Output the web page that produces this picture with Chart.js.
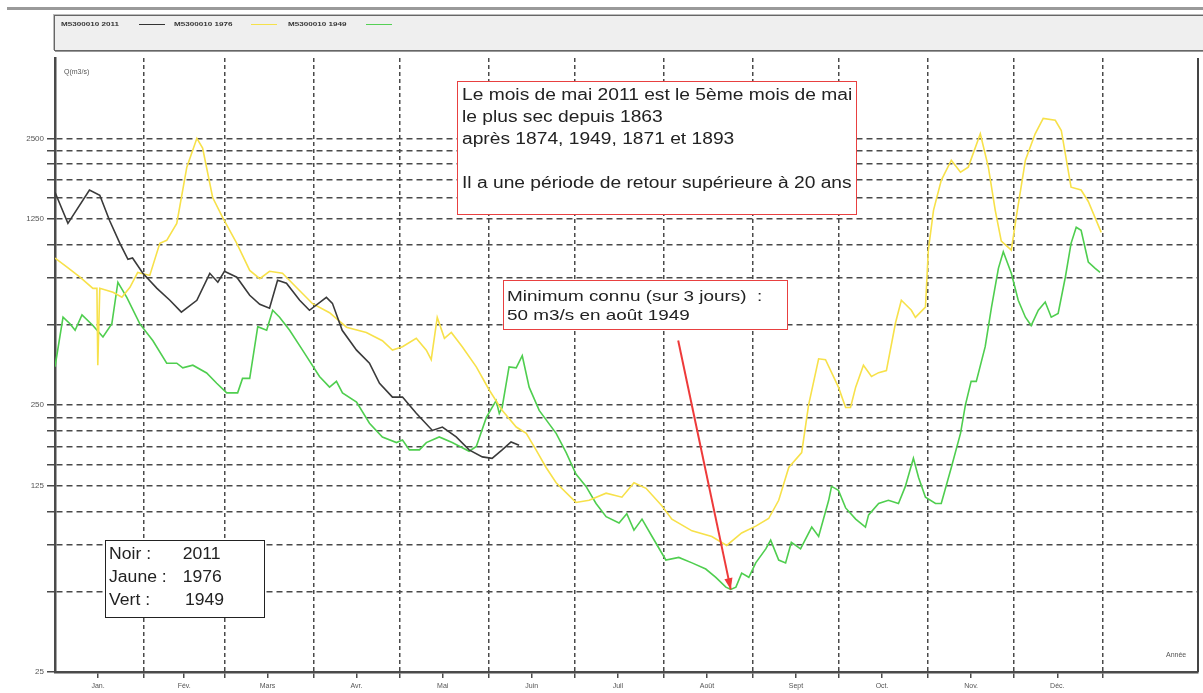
<!DOCTYPE html>
<html>
<head>
<meta charset="utf-8">
<script src="https://cdn.jsdelivr.net/npm/chart.js@4.4.0/dist/chart.umd.min.js"></script>
<style>
  body { margin: 0; background: #fff; font-family: Arial, "Liberation Sans", sans-serif; }
  #wrap { position: relative; width: 1203px; height: 693px; overflow: hidden; }
  canvas { position: absolute; left: 0; top: 0; }
  .topline { position: absolute; left: 7px; top: 7px; width: 1200px; height: 3px; background: #9a9a9a; }
  .legend { position: absolute; left: 54px; top: 15px; width: 1160px; height: 34px; background: #efefef;
            border: 1px solid #666; box-shadow: 1px 1px 0 #999, -1px -1px 0 #bbb; }
  .legend span { position: absolute; top: 5px; font-size: 6px; font-weight: bold; color: #333;
                 transform: scaleX(1.35); transform-origin: left; }
  .legend i { position: absolute; top: 8px; height: 1px; width: 26px; }
  .box { position: absolute; background: #fff; color: #222; }
  .red { border: 1.5px solid #e84040; }
  .stretch { transform: scaleX(1.2); transform-origin: left top; white-space: nowrap; }
  .small { position: absolute; font-size: 7px; color: #555; }
</style>
</head>
<body>
<div id="wrap">
  <canvas id="myChart" width="1203" height="693"></canvas>
  <div class="topline"></div>
  <div class="legend">
    <span style="left:6px">M5300010 2011</span><i style="left:84px;background:#333"></i>
    <span style="left:119px">M5300010 1976</span><i style="left:196px;background:#f5e14a"></i>
    <span style="left:233px">M5300010 1949</span><i style="left:311px;background:#55d055"></i>
  </div>
  <div class="small" style="left:64px;top:68px">Q(m3/s)</div>
  <div class="small" style="left:1166px;top:651px">Année</div>
  <div class="box red" style="left:457px;top:81px;width:400px;height:134px;font-size:16px;line-height:22px;padding:2px 0 0 4px;box-sizing:border-box">
    <div class="stretch">Le mois de mai 2011 est le 5ème mois de mai<br>le plus sec depuis 1863<br>après 1874, 1949, 1871 et 1893<br><br>Il a une période de retour supérieure à 20 ans</div>
  </div>
  <div class="box red" style="left:503px;top:280px;width:285px;height:50px;font-size:15px;line-height:19px;padding:5px 0 0 3px;box-sizing:border-box">
    <div class="stretch" style="transform:scaleX(1.26)">Minimum connu (sur 3 jours)&nbsp; :<br>50 m3/s en août 1949</div>
  </div>
  <div class="box" style="left:105px;top:540px;width:160px;height:78px;border:1.5px solid #222;font-size:16px;line-height:23px;padding:1px 0 0 3px;box-sizing:border-box">
    <div class="stretch" style="transform:scaleX(1.1);position:relative">
      <div>Noir :<span style="position:absolute;left:67px">2011</span></div>
      <div>Jaune :<span style="position:absolute;left:67px">1976</span></div>
      <div>Vert :<span style="position:absolute;left:69px">1949</span></div>
    </div>
  </div>
</div>
<script>
// débits journaliers, jour de l'année (0 = 1er janvier) / Q en m3/s
const days2011 = [0, 4.5, 12, 15.6, 19, 22.6, 25.4, 27, 30.6, 35.5, 40, 44, 49.4, 53.9, 56.7, 59, 63.3, 67.8, 71.3, 74.7, 77.5, 80.6, 85.2, 88.6, 94.5, 96.6, 100, 105, 109.5, 113, 117.5, 121, 125.8, 131.4, 134.9, 139.7, 144.2, 148.8, 152.2, 155.7, 158.8, 161.6];
const q2011 = [1570, 1200, 1600, 1530, 1230, 1010, 880, 890, 780, 685, 618, 558, 618, 780, 722, 794, 754, 645, 597, 577, 735, 716, 618, 567, 634, 602, 477, 402, 359, 302, 268, 268, 233, 201, 207, 190, 170, 160, 158, 170, 182, 177];

const days1976 = [0, 4.2, 8.7, 13.2, 14.6, 14.9, 15.6, 20.2, 23.3, 26.1, 28.8, 33, 36.5, 38.9, 42.4, 45.9, 49.4, 51.4, 54.9, 58.4, 63.3, 67.8, 71.3, 74.7, 79.2, 84.1, 89.7, 95.6, 101.5, 108.4, 114, 117.5, 121, 125.8, 129.3, 131, 133.1, 135.6, 138, 141.8, 146.7, 151.2, 155.7, 160.6, 164.1, 167.5, 171, 174.5, 181.4, 186, 191.9, 197.4, 201.6, 205.8, 211.3, 214.8, 221.8, 228.7, 233.9, 239.1, 244, 248.5, 252, 255.5, 260, 262.4, 265.9, 268.3, 272.8, 275.3, 277, 278.8, 281.5, 284.3, 286.8, 289.5, 292.7, 294.7, 298.2, 299.6, 303.1, 304.1, 305.9, 308.6, 312.1, 315.3, 318, 322.2, 325, 327.4, 329.5, 333, 334.7, 337.9, 341.3, 344.1, 348.3, 350.4, 353.8, 357.3, 359.8, 364.3];
const q1976 = [890, 822, 754, 685, 685, 353, 685, 662, 634, 691, 786, 766, 1010, 1037, 1200, 1950, 2500, 2300, 1500, 1260, 1010, 800, 745, 794, 780, 690, 600, 555, 490, 468, 436, 402, 414, 445, 402, 370, 533, 445, 468, 414, 348, 285, 239, 207, 196, 170, 146, 128, 108, 110, 117, 113, 128, 122, 105, 93.5, 84.5, 80.5, 74.5, 83, 88, 94, 110, 146, 166, 250, 373, 370, 292, 245, 245, 292, 353, 320, 331, 337, 510, 618, 567, 533, 583, 952, 1343, 1740, 2070, 1865, 1950, 2600, 1950, 1343, 1030, 952, 1265, 2070, 2600, 2970, 2920, 2675, 1640, 1600, 1450, 1110];

const days1949 = [0, 2.8, 5.2, 7, 9.4, 13.2, 16.7, 19.8, 21.9, 25, 29.5, 34.1, 38.9, 42.4, 44.5, 48, 52.8, 56.3, 59.8, 63.6, 65.3, 67.8, 70.6, 73.7, 75.8, 78.2, 81.7, 86.2, 92.1, 95.6, 98, 100.1, 105, 109.5, 114, 118.9, 121, 123.4, 126.9, 129.3, 133.8, 138.3, 144.2, 146.7, 150.2, 153.6, 154.7, 155.7, 158.1, 160.6, 162.7, 165.1, 168.6, 174.5, 178, 181.4, 184.9, 188.4, 191.9, 196.4, 199.1, 201.6, 204.4, 207.9, 212.7, 217.2, 221.8, 226.6, 230.1, 233.6, 235.3, 237.1, 239.1, 241.6, 244, 247.5, 249.2, 252, 254.4, 256.4, 259.6, 263.5, 265.9, 269.4, 270.4, 272.8, 275.3, 278.8, 282.2, 283.3, 286.8, 290.2, 293.7, 296.1, 298.9, 300.7, 303.1, 306.6, 308.6, 312.1, 315.3, 317, 319, 320.8, 323.9, 326.1, 328.5, 330.2, 333, 335.4, 337.9, 339.9, 342.4, 344.8, 346.9, 349.3, 351.8, 353.8, 355.6, 357.3, 359.8, 362.2, 363.9];
const q1949 = [348, 534, 505, 477, 545, 497, 450, 505, 722, 634, 505, 436, 359, 359, 345, 353, 330, 302, 278, 278, 315, 315, 492, 477, 567, 534, 477, 402, 320, 292, 307, 278, 257, 214, 190, 181, 185, 170, 170, 181, 190, 181, 168, 175, 225, 260, 233, 245, 348, 345, 383, 292, 239, 196, 166, 138, 124, 107, 95.5, 90.5, 98, 85, 93.5, 80.5, 65.7, 67.2, 64.1, 60.8, 56.6, 52, 51, 52, 58.7, 56.6, 64.1, 72.3, 78, 65.7, 64.1, 76.5, 72.3, 87.3, 80.5, 110, 124, 120, 103, 93.5, 87.3, 97, 107, 110, 107, 124, 158, 134, 113, 107, 107, 146, 196, 250, 307, 307, 414, 583, 814, 940, 780, 618, 534, 497, 567, 609, 534, 552, 754, 1010, 1160, 1130, 860, 814, 786];

const monthStarts = [31, 59, 90, 120, 151, 181, 212, 243, 273, 304, 334, 365];
const monthMids = [15, 45, 74, 105, 135, 166, 196, 227, 258, 288, 319, 349];
const monthNames = ['Jan.', 'Fév.', 'Mars', 'Avr.', 'Mai', 'Juin', 'Juil', 'Août', 'Sept', 'Oct.', 'Nov.', 'Déc.'];

const yGrid = [25, 50, 75, 100, 125, 150, 175, 200, 225, 250, 500, 750, 1000, 1250, 1500, 1750, 2000, 2250, 2500];
const yLabels = [25, 125, 250, 1250, 2500];

// flèche du minimum connu
const arrowFrom = [217, 437];
const arrowTo = [235.3, 51];

const toPts = (xs, ys) => xs.map((d, i) => ({ x: d, y: ys[i] }));

const arrowPlugin = {
  id: 'arrow',
  afterDatasetsDraw(chart) {
    const { ctx, scales: { x, y }, chartArea } = chart;
    const x1 = x.getPixelForValue(arrowFrom[0]), y1 = y.getPixelForValue(arrowFrom[1]);
    const x2 = x.getPixelForValue(arrowTo[0]), y2 = y.getPixelForValue(arrowTo[1]);
    const a = Math.atan2(y2 - y1, x2 - x1);
    ctx.save();
    ctx.strokeStyle = '#ee3a3a';
    ctx.fillStyle = '#ee3a3a';
    ctx.lineWidth = 2;
    ctx.beginPath();
    ctx.moveTo(x1, y1);
    ctx.lineTo(x2, y2);
    ctx.stroke();
    ctx.beginPath();
    ctx.moveTo(x2, y2);
    ctx.lineTo(x2 - 12 * Math.cos(a - 0.35), y2 - 12 * Math.sin(a - 0.35));
    ctx.lineTo(x2 - 12 * Math.cos(a + 0.35), y2 - 12 * Math.sin(a + 0.35));
    ctx.closePath();
    ctx.fill();
    // bord droit du cadre
    ctx.strokeStyle = '#444';
    ctx.lineWidth = 2;
    ctx.beginPath();
    ctx.moveTo(chartArea.right, chartArea.top);
    ctx.lineTo(chartArea.right, chartArea.bottom);
    ctx.stroke();
    ctx.restore();
  }
};

var ctx = document.getElementById('myChart').getContext('2d');
var myChart = new Chart(ctx, {
  type: 'line',
  data: {
    datasets: [
      { label: 'M5300010 2011', data: toPts(days2011, q2011), borderColor: '#3a3a3a' },
      { label: 'M5300010 1976', data: toPts(days1976, q1976), borderColor: '#f7e14a' },
      { label: 'M5300010 1949', data: toPts(days1949, q1949), borderColor: '#4fce4f' }
    ]
  },
  options: {
    responsive: false,
    animation: false,
    devicePixelRatio: 1,
    layout: { padding: { left: 0, right: 5, top: 58, bottom: 0 } },
    elements: {
      point: { radius: 0 },
      line: { borderWidth: 1.6, tension: 0 }
    },
    plugins: {
      legend: { display: false },
      tooltip: { enabled: false }
    },
    scales: {
      x: {
        type: 'linear',
        min: 0,
        max: 398,
        afterFit: (s) => { s.height = 21; },
        afterBuildTicks: (s) => {
          s.ticks = monthStarts.concat(monthMids).sort((a, b) => a - b).map(v => ({ value: v }));
        },
        grid: {
          color: (c) => (c.tick && monthStarts.includes(c.tick.value)) ? '#4a4a4a' : 'rgba(0,0,0,0)',
          lineWidth: 1.5,
          tickColor: '#4a4a4a',
          tickLength: 6,
          tickWidth: 1.5
        },
        border: { color: '#4a4a4a', width: 2.5, dash: [4, 3] },
        ticks: {
          autoSkip: false,
          maxRotation: 0,
          padding: 4,
          color: '#555',
          font: { family: 'Arial, "Liberation Sans"', size: 7 },
          callback: (v) => {
            const i = monthMids.indexOf(v);
            return i >= 0 ? monthNames[i] : '';
          }
        }
      },
      y: {
        type: 'logarithmic',
        min: 25,
        max: 5000,
        afterFit: (s) => { s.width = 55; },
        afterBuildTicks: (s) => { s.ticks = yGrid.map(v => ({ value: v })); },
        grid: {
          color: '#4a4a4a',
          lineWidth: 1.5,
          tickColor: '#4a4a4a',
          tickLength: 8,
          tickWidth: 1.5
        },
        border: { color: '#4a4a4a', width: 2.5, dash: [6, 4] },
        ticks: {
          autoSkip: false,
          padding: 3,
          color: '#555',
          font: { family: 'Arial, "Liberation Sans"', size: 8 },
          callback: (v) => yLabels.includes(v) ? String(v) : ''
        }
      }
    }
  },
  plugins: [arrowPlugin]
});
</script>
</body>
</html>
